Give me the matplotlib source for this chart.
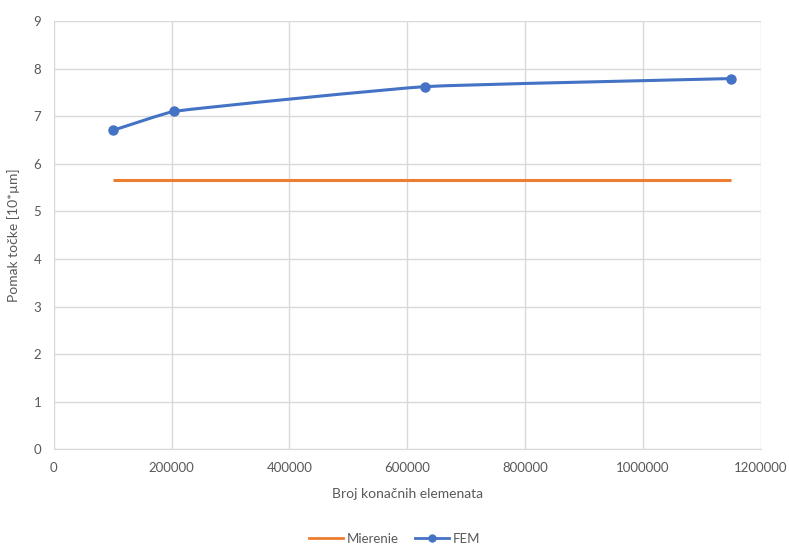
import matplotlib
matplotlib.use("Agg")
import matplotlib.pyplot as plt
import numpy as np
from matplotlib.path import Path
from matplotlib.patches import PathPatch
from matplotlib.lines import Line2D

# podaci ocitani sa grafa
broj_elemenata = [100000, 204000, 630000, 1150000]
pomak_fem = [6.7, 7.1, 7.62, 7.79]
mjerenje_x = [100000, 1150000]
mjerenje_y = [5.66, 5.66]

x_ticks = [0, 200000, 400000, 600000, 800000, 1000000, 1200000]
y_ticks = [0, 1, 2, 3, 4, 5, 6, 7, 8, 9]

plava = "#4472C4"
narancasta = "#ED7D31"
siva = "#595959"

plt.rcParams['font.family'] = ['Lato', 'DejaVu Sans']

fig = plt.figure(figsize=(7.89, 5.45), dpi=100)
ax = fig.add_axes([0.0682, 0.1756, 0.8958, 0.7859])
ax.set_xlim(0, 1200000)
ax.set_ylim(0, 9)


def smooth_path(xs, ys, sx, sy, k=0.12):
    # blago zagladena linija (Bezier), tangente racunate u omjeru piksela
    p = np.column_stack([np.array(xs) * sx, np.array(ys) * sy])
    n = len(p)
    tang = []
    for i in range(n):
        if i == 0:
            d = p[1] - p[0]
        elif i == n - 1:
            d = p[-1] - p[-2]
        else:
            d = p[i + 1] - p[i - 1]
        tang.append(d / np.hypot(*d))
    verts = [p[0]]
    codes = [Path.MOVETO]
    for i in range(n - 1):
        L = np.hypot(*(p[i + 1] - p[i])) * k
        verts += [p[i] + tang[i] * L, p[i + 1] - tang[i + 1] * L, p[i + 1]]
        codes += [Path.CURVE4] * 3
    verts = np.array(verts) / [sx, sy]
    return Path(verts, codes)


sx = 707 / 1200000
sy = 47.6
ax.plot(mjerenje_x, mjerenje_y, color=narancasta, linewidth=2.2, solid_capstyle='butt', zorder=3)
ax.add_patch(PathPatch(smooth_path(broj_elemenata, pomak_fem, sx, sy), facecolor='none',
                       edgecolor=plava, linewidth=2.2, zorder=3))
ax.plot(broj_elemenata, pomak_fem, linestyle='none', marker='o', markersize=6.5,
        color=plava, zorder=4)

ax.set_xticks(x_ticks)
ax.set_yticks(y_ticks)
ax.set_xticklabels([str(t) for t in x_ticks])
ax.grid(True, color="#D9D9D9", linewidth=1)
ax.set_axisbelow(True)
for s in ['top', 'right', 'left']:
    ax.spines[s].set_visible(False)
ax.spines['bottom'].set_color("#D9D9D9")
ax.tick_params(length=0, labelsize=9.5, labelcolor=siva, pad=9)

ax.set_xlabel("Broj konačnih elemenata", fontsize=10, color=siva, labelpad=10)
ax.set_ylabel("Pomak točke [10*µm]", fontsize=10, color=siva, labelpad=10)

handles = [Line2D([], [], color=narancasta, linewidth=2),
           Line2D([], [], color=plava, linewidth=2, marker='o', markersize=5)]
fig.legend(handles, ["Mierenie", "FEM"], loc='lower center', bbox_to_anchor=(0.5, -0.022),
           ncol=2, frameon=False, fontsize=9.5, labelcolor=siva, handlelength=2.6,
           columnspacing=1.2, handletextpad=0.3)

fig.savefig("out.png", dpi=100)
